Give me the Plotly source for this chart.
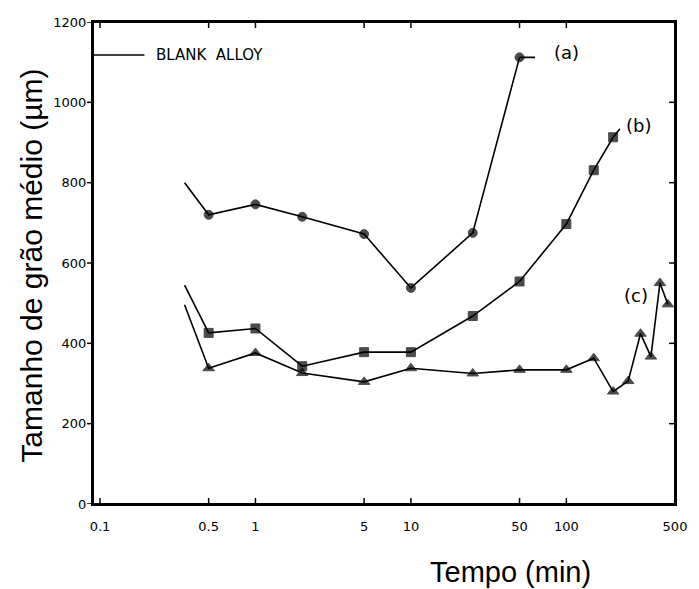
import math
import plotly.graph_objects as go

# Data
x_a = [0.35, 0.5, 1, 2, 5, 10, 25, 50]
y_a = [800, 720, 746, 715, 672, 538, 675, 1112]

x_b = [0.35, 0.5, 1, 2, 5, 10, 25, 50, 100, 150, 200]
y_b = [545, 426, 437, 343, 378, 378, 468, 554, 697, 831, 913]

x_c = [0.35, 0.5, 1, 2, 5, 10, 25, 50, 100, 150, 200, 250, 300, 350, 400, 450]
y_c = [496, 338, 376, 326, 304, 338, 325, 334, 334, 363, 280, 306, 424, 367, 550, 497]

x_tickvals = [0.1, 0.5, 1, 5, 10, 50, 100, 500]
x_ticktext = ["0.1", "0.5", "1", "5", "10", "50", "100", "500"]
y_tickvals = [0, 200, 400, 600, 800, 1000, 1200]

series_labels = ["(a)", "(b)", "(c)"]
legend_text = "BLANK  ALLOY"

X_RANGE = [-1.045, math.log10(500)]
Y_RANGE = [0, 1200]

W, H = 699, 589
ML, MR, MT, MB = 93, 18, 22, 85
PW, PH = W - ML - MR, H - MT - MB


def sizes(n, s):
    return [0] + [s] * (n - 1)


fig = go.Figure()
line = dict(color="black", width=1.6)
mline = dict(color="black", width=1)
fig.add_trace(go.Scatter(x=x_a, y=y_a, mode="lines+markers", line=line,
                         marker=dict(symbol="circle", size=sizes(len(x_a), 9), color="black", line=mline),
                         showlegend=False))
fig.add_trace(go.Scatter(x=x_b, y=y_b, mode="lines+markers", line=line,
                         marker=dict(symbol="square", size=sizes(len(x_b), 9), color="black", line=mline),
                         showlegend=False))
fig.add_trace(go.Scatter(x=x_c, y=y_c, mode="lines+markers", line=line,
                         marker=dict(symbol="triangle-up", size=sizes(len(x_c), 10), color="black", line=mline),
                         showlegend=False))

tick_font = dict(family="DejaVu Sans", size=13, color="black")
title_font = dict(family="Liberation Sans, Arial", size=29, color="black")

fig.update_layout(
    width=W, height=H,
    margin=dict(l=ML, r=MR, t=MT, b=MB),
    paper_bgcolor="white", plot_bgcolor="white",
    xaxis=dict(type="log", range=X_RANGE, tickvals=x_tickvals, ticktext=x_ticktext,
               ticks="outside", ticklen=9, tickcolor="rgba(0,0,0,0)",
               showline=True, linewidth=2, linecolor="black", mirror=True,
               showgrid=False, zeroline=False, tickfont=tick_font),
    yaxis=dict(range=Y_RANGE, tickvals=y_tickvals,
               ticks="outside", ticklen=2, tickcolor="rgba(0,0,0,0)",
               showline=True, linewidth=2, linecolor="black", mirror=True,
               showgrid=False, zeroline=False, tickfont=tick_font),
)

# Frame and ticks (drawn as shapes; shapes use data values on the log axis)
frame = dict(color="black", width=2)
tick_line = dict(color="black", width=1.5)
fig.add_shape(type="rect", xref="x domain", yref="y domain", x0=0, x1=1, y0=0, y1=1,
              line=frame, layer="above")
tl_x = 6 / PH
tl_y = 6 / PW
for v in x_tickvals:
    fig.add_shape(type="line", xref="x", yref="y domain", x0=v, x1=v, y0=0, y1=tl_x, line=tick_line)
    fig.add_shape(type="line", xref="x", yref="y domain", x0=v, x1=v, y0=1, y1=1 - tl_x, line=tick_line)
for v in y_tickvals:
    fig.add_shape(type="line", xref="x domain", yref="y", x0=0, x1=-tl_y, y0=v, y1=v, line=tick_line)
    fig.add_shape(type="line", xref="x domain", yref="y", x0=1, x1=1 - tl_y, y0=v, y1=v, line=tick_line)

# Axis titles
fig.add_annotation(text="Tempo (min)", xref="paper", yref="paper", x=(515 - ML) / PW,
                   y=-(572 - (MT + PH)) / PH, showarrow=False, font=title_font,
                   xanchor="center", yanchor="middle")
fig.add_annotation(text="Tamanho de grão médio (µm)", xref="paper", yref="paper",
                   x=-(ML - 30) / PW, y=(MT + PH - 266) / PH, textangle=-90,
                   showarrow=False, font=dict(family="Liberation Sans, Arial", size=30, color="black"),
                   xanchor="center", yanchor="middle")

# Key for the blank alloy
key_y = (MT + PH - 55) / PH
fig.add_shape(type="line", xref="x domain", yref="y domain", x0=0, x1=(145 - ML) / PW,
              y0=key_y, y1=key_y, line=dict(color="black", width=1.6))
fig.add_annotation(text=legend_text, xref="x domain", yref="y domain", x=(155 - ML) / PW,
                   y=key_y, xanchor="left", yanchor="middle", showarrow=False,
                   font=dict(family="DejaVu Sans", size=15, color="black"))

lab_font = dict(family="DejaVu Sans", size=18, color="black")
# connectors to the series labels (annotations use log10 positions on log axes)
fig.add_annotation(x=math.log10(x_a[-1]), y=y_a[-1], xref="x", yref="y",
                   text="", showarrow=True, arrowhead=0, arrowwidth=1.6, arrowcolor="black",
                   axref="pixel", ayref="pixel", ax=17, ay=0, standoff=0)
fig.add_annotation(x=math.log10(x_b[-1]), y=y_b[-1], xref="x", yref="y",
                   text="", showarrow=True, arrowhead=0, arrowwidth=1.6, arrowcolor="black",
                   axref="pixel", ayref="pixel", ax=8, ay=-10, standoff=0)
# series labels
fig.add_annotation(x=math.log10(x_a[-1]), y=y_a[-1], text=series_labels[0], showarrow=False,
                   xshift=47, yshift=5, font=lab_font)
fig.add_annotation(x=math.log10(x_b[-1]), y=y_b[-1], text=series_labels[1], showarrow=False,
                   xshift=25, yshift=12, font=lab_font)
fig.add_annotation(x=math.log10(x_c[-2]), y=y_c[-2], text=series_labels[2], showarrow=False,
                   xshift=-24, yshift=-12, font=lab_font)

fig.write_html("out.html", config={"displayModeBar": False},
               post_script="document.body.style.margin='0';")
